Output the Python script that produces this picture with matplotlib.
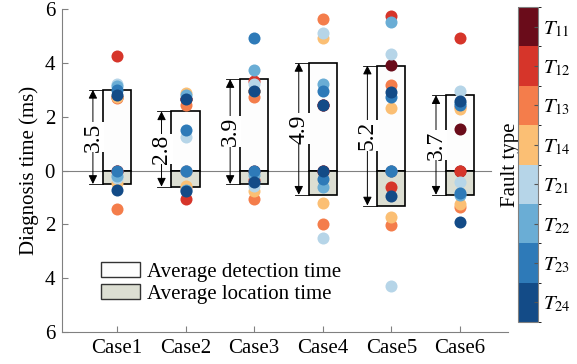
import numpy as np
import matplotlib
matplotlib.use("Agg")
import matplotlib.pyplot as plt
from matplotlib.colors import ListedColormap, BoundaryNorm
from matplotlib.patches import Rectangle

plt.rcParams['font.family'] = ['Liberation Serif', 'DejaVu Serif']
plt.rcParams['mathtext.fontset'] = 'stix'
plt.rcParams['font.size'] = 15

# data
cases = ["Case1", "Case2", "Case3", "Case4", "Case5", "Case6"]
fault_types = ["$T_{11}$", "$T_{12}$", "$T_{13}$", "$T_{14}$",
               "$T_{21}$", "$T_{22}$", "$T_{23}$", "$T_{24}$"]
fault_colors = ["#6a0c1a", "#d6352a", "#f47d4b", "#fbbf74",
                "#b6d5e8", "#6aadd5", "#2e7ab8", "#134b87"]

avg_detect = [3.0, 2.2, 3.4, 4.0, 3.9, 2.8]
avg_locate = [0.5, 0.6, 0.5, 0.9, 1.3, 0.9]

# rows: fault type T11..T24, columns: Case1..Case6
detect_time = np.array([
    [2.75, 2.65, 2.94, 2.45, 3.94, 1.55],
    [4.25, 2.65, 3.33, 2.45, 5.74, 4.94],
    [2.68, 2.42, 2.72, 5.63, 3.17, 2.35],
    [2.75, 2.90, 2.94, 4.94, 2.32, 2.30],
    [3.20, 1.25, 3.20, 5.13, 4.33, 2.96],
    [3.15, 2.79, 3.75, 3.20, 5.53, 2.50],
    [3.00, 1.50, 4.93, 2.96, 2.72, 2.45],
    [2.80, 2.65, 2.94, 2.45, 2.92, 2.59],
])
locate_time = np.array([
    [0.00, 0.00, 0.00, 0.00, 0.00, 0.00],
    [0.00, 1.04, 0.34, 0.00, 0.61, 0.00],
    [1.42, 0.65, 1.04, 1.99, 2.03, 1.35],
    [0.47, 0.59, 0.77, 1.22, 1.72, 1.24],
    [0.28, 0.00, 0.59, 2.51, 4.28, 0.43],
    [0.22, 0.71, 0.16, 0.61, 0.00, 0.90],
    [0.00, 0.00, 0.00, 0.32, 0.00, 0.83],
    [0.73, 0.77, 0.44, 0.00, 0.93, 1.93],
])

fig = plt.figure(figsize=(5.77, 3.64), dpi=100)
ax = fig.add_axes([0.1075, 0.088, 0.773, 0.887])

x = np.arange(1, len(cases) + 1)
box_w = 0.41
arrow_dx = 0.35

ax.axhline(0, xmin=0, xmax=0.962, color="#808080", lw=0.8, zorder=1)

for i, xi in enumerate(x):
    d = avg_detect[i]
    l = avg_locate[i]
    ax.add_patch(Rectangle((xi - box_w / 2, 0), box_w, d, fc="#fdfdfd",
                           ec="k", lw=1.2, zorder=2))
    ax.add_patch(Rectangle((xi - box_w / 2, -l), box_w, l, fc="#dcded2",
                           ec="k", lw=1.2, zorder=2))
    ax_x = xi - arrow_dx
    ax.plot([ax_x - 0.06, xi - box_w / 2], [d, d], color="k", lw=0.6, zorder=2)
    ax.plot([ax_x - 0.06, xi - box_w / 2], [-l, -l], color="k", lw=0.6, zorder=2)
    ax.annotate("", xy=(ax_x, d), xytext=(ax_x, -l),
                arrowprops=dict(arrowstyle="<|-|>", color="k", lw=0.7,
                                mutation_scale=13, shrinkA=0, shrinkB=0),
                zorder=2)
    ax.text(ax_x, (d - l) / 2, f"{d + l:.1f}", rotation=90, ha="center",
            va="center", fontsize=17, zorder=3,
            bbox=dict(fc="white", ec="none", pad=0.5))

for k in range(len(fault_types)):
    ax.scatter(x, detect_time[k], s=75, color=fault_colors[k], lw=0, zorder=4)
    ax.scatter(x, -locate_time[k], s=75, color=fault_colors[k], lw=0, zorder=4)

ax.set_xlim(0.2, 6.7)
ax.set_ylim(-6, 6)
ax.set_xticks(x)
ax.set_xticklabels(cases)
ax.set_yticks([6, 4, 2, 0, -2, -4, -6])
ax.set_yticklabels(["6", "4", "2", "0", "2", "4", "6"])
ax.set_ylabel("Diagnosis time (ms)")
ax.tick_params(direction="in", color="#808080", length=4, width=0.8, pad=5)
for s in ["top", "right"]:
    ax.spines[s].set_visible(False)
for s in ["left", "bottom"]:
    ax.spines[s].set_color("#808080")
    ax.spines[s].set_linewidth(0.8)

h1 = Rectangle((0, 0), 1, 1, fc="#fdfdfd", ec="#333333", lw=1)
h2 = Rectangle((0, 0), 1, 1, fc="#dcded2", ec="#333333", lw=1)
fig.legend([h1, h2], ["Average detection time", "Average location time"],
           loc="upper left", bbox_to_anchor=(0.175, 0.28), frameon=False,
           handlelength=1.85, handleheight=0.75, handletextpad=0.35,
           labelspacing=0.1, borderaxespad=0, borderpad=0)

# colorbar for fault types, T11 on top
cmap = ListedColormap(fault_colors[::-1])
norm = BoundaryNorm(np.arange(0, 9), cmap.N)
cax = fig.add_axes([0.898, 0.115, 0.035, 0.866])
sm = plt.cm.ScalarMappable(cmap=cmap, norm=norm)
cb = fig.colorbar(sm, cax=cax, ticks=np.arange(0.5, 8))
cb.set_ticklabels(fault_types[::-1])
cb.outline.set_edgecolor("#808080")
cb.outline.set_linewidth(0.8)
cax.tick_params(direction="in", length=3, color="#555555", labelsize=15, pad=3)
cax.yaxis.set_label_position("left")
cb.set_label("Fault type", fontsize=15, labelpad=-1)

fig.savefig("out.png", dpi=100)
